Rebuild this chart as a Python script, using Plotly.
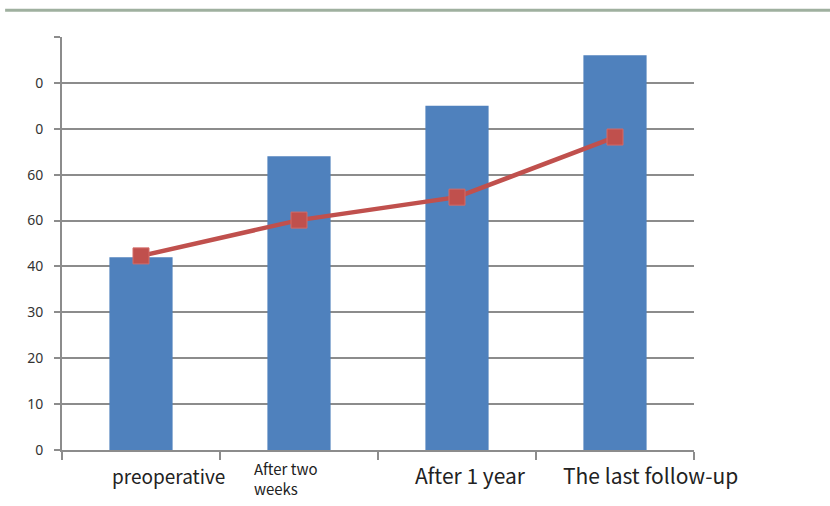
import plotly.graph_objects as go

categories = ["preoperative", "After two weeks", "After 1 year", "The last follow-up"]
cat_labels = ["preoperative", "After two<br>weeks", "After 1 year", "The last follow-up"]
bar_values = [42, 64, 75, 86]
line_values = [42.3, 50.1, 55.1, 68.2]
y_tickvals = [0, 10, 20, 30, 40, 50, 60, 70, 80, 90]
y_ticktext = ["0", "10", "20", "30", "40", "60", "60", "0", "0", ""]

# label styling: (font size, x shift, anchor, y shift)
label_styles = [
    (19, 27, "center", -25),
    (15, -47, "left", -28),
    (21, 13, "center", -25),
    (21, 35, "center", -25),
]

fig = go.Figure()
fig.add_trace(go.Bar(x=categories, y=bar_values, width=0.4,
                     marker=dict(color="#4f81bd", line=dict(width=0)),
                     showlegend=False))
fig.add_trace(go.Scatter(x=categories, y=line_values, mode="lines+markers",
                         line=dict(color="#c0504d", width=4.5),
                         marker=dict(symbol="square", size=16, color="#c0504d",
                                     line=dict(color="#d46a67", width=1)),
                         showlegend=False))

for cat, lab, (fs, xs, anc, ys) in zip(categories, cat_labels, label_styles):
    fig.add_annotation(x=cat, xref="x", y=0, yref="paper", text=lab,
                       showarrow=False, xanchor=anc, yanchor="middle",
                       xshift=xs, yshift=ys, align="left",
                       font=dict(family="Noto Sans CJK SC", size=fs, color="#222"))

fig.add_shape(type="line", xref="paper", yref="paper", x0=-0.09, x1=1.25,
              y0=1.065, y1=1.065, line=dict(color="#9fb09f", width=3))

fig.update_layout(
    width=830, height=506,
    margin=dict(l=62, r=136, t=37, b=56, autoexpand=False),
    paper_bgcolor="white", plot_bgcolor="white",
    bargap=0.6,
    xaxis=dict(type="category", range=[-0.5, 3.5], showticklabels=False,
               showline=True, linecolor="#8c8c8c", linewidth=2, ticks="outside",
               tickson="boundaries", ticklen=8, tickcolor="#8c8c8c",
               tickwidth=2, showgrid=False, zeroline=False, automargin=False),
    yaxis=dict(range=[0, 90], tickvals=y_tickvals, ticktext=y_ticktext,
               showline=True, linecolor="#8c8c8c", linewidth=2,
               showgrid=True, gridcolor="#8c8c8c", gridwidth=2,
               ticks="outside", ticklen=6, tickcolor="#8c8c8c", tickwidth=2,
               zeroline=False, ticklabelstandoff=8, automargin=False,
               tickfont=dict(family="Noto Sans", size=14, color="#333")),
)

fig.write_html("out.html")
